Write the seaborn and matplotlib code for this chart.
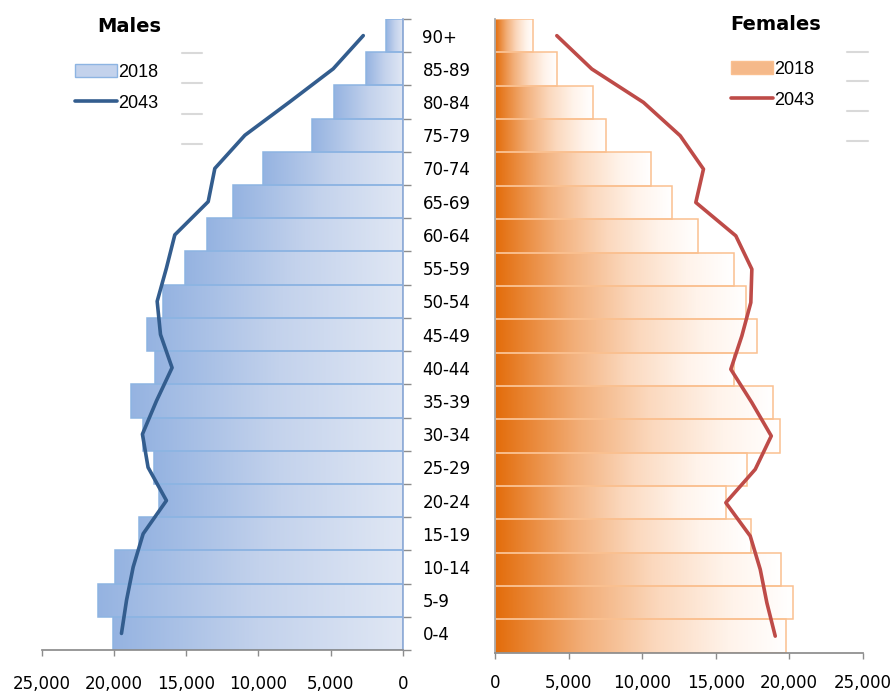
import numpy as np
import pandas as pd
import seaborn as sns
import matplotlib.pyplot as plt
from matplotlib.colors import LinearSegmentedColormap
from matplotlib.patches import Patch
from matplotlib.lines import Line2D
from matplotlib.ticker import FuncFormatter, FixedLocator

sns.set_theme(style="white")
plt.rcParams['font.family'] = ['DejaVu Sans']
plt.rcParams['text.color'] = 'black'
plt.rcParams['xtick.labelcolor'] = 'black'
plt.rcParams['ytick.labelcolor'] = 'black'

# age groups, top to bottom
ages = ["90+", "85-89", "80-84", "75-79", "70-74", "65-69", "60-64", "55-59",
        "50-54", "45-49", "40-44", "35-39", "30-34", "25-29", "20-24", "15-19",
        "10-14", "5-9", "0-4"]

males_2018 = [1200, 2560, 4800, 6280, 9670, 11750, 13550, 15100, 16600, 17730,
              17130, 18840, 17980, 17220, 16880, 18260, 19900, 21070, 20040]
males_2043 = [2750, 4830, 7850, 10940, 13020, 13480, 15790, 16370, 17010, 16780,
              15980, 17060, 18030, 17640, 16370, 17980, 18670, 19130, 19480]
females_2018 = [2610, 4200, 6640, 7530, 10590, 12020, 13810, 16240, 17070, 17800,
                16260, 18870, 19340, 17120, 15690, 17370, 19440, 20230, 19800]
females_2043 = [4200, 6580, 10090, 12590, 14170, 13650, 16370, 17460, 17390, 16780,
                16030, 17460, 18780, 17690, 15690, 17350, 18030, 18480, 19050]

xticks = [0, 5000, 10000, 15000, 20000, 25000]

df = pd.DataFrame({"age": ages, "m18": males_2018, "m43": males_2043,
                   "f18": females_2018, "f43": females_2043})
pos = np.arange(len(ages))

male_cmap = LinearSegmentedColormap.from_list("m", ["#e0e7f4", "#c3d2ec", "#95b3e1"])
female_cmap = LinearSegmentedColormap.from_list(
    "f", [(0, "#e36c0a"), (0.3, "#f2ae78"), (0.55, "#fbd8bd"), (0.8, "#fff3ea"), (1, "#ffffff")])


def shade(ax, cmap):
    # replace flat bar fill with a horizontal gradient clipped to each bar
    grad = np.linspace(0, 1, 256).reshape(1, -1)
    for bar in list(ax.patches):
        x0, y0 = bar.get_x(), bar.get_y()
        w, h = bar.get_width(), bar.get_height()
        im = ax.imshow(grad, cmap=cmap, extent=(x0, x0 + w, y0 + h, y0),
                       aspect="auto", interpolation="bilinear", zorder=0.8)
        im.set_clip_path(bar)
        bar.set_facecolor("none")
        bar.set_zorder(1)


fmt = FuncFormatter(lambda v, p: f"{v:,.0f}")
fig = plt.figure(figsize=(8.91, 6.93), dpi=100)

# ---- Males
ax_m = fig.add_axes([0.0468, 0.062, 0.4055, 0.9106])
sns.barplot(data=df, x="m18", y="age", orient="h", width=1.0, color="#c3d2ec",
            edgecolor="#8db4e2", linewidth=1.1, ax=ax_m)
shade(ax_m, male_cmap)
sns.lineplot(x=df["m43"], y=pos, orient="y", sort=False, color="#335d8e",
             linewidth=2.6, ax=ax_m)
ax_m.set_xlim(25000, 0)
ax_m.set_ylim(18.5, -0.5)
ax_m.set_xlabel("")
ax_m.set_ylabel("")
ax_m.xaxis.set_major_locator(FixedLocator(xticks))
ax_m.xaxis.set_major_formatter(fmt)
ax_m.yaxis.tick_right()
ax_m.set_yticks(pos)
ax_m.set_yticklabels(ages)
ax_m.set_yticks(np.arange(-0.5, 19, 1), minor=True)
ax_m.tick_params(axis="y", which="major", length=0, pad=14, labelsize=12, labelcolor="black")
ax_m.tick_params(axis="y", which="minor", length=6, width=1, color="#8c8c8c", right=True, left=False)
ax_m.tick_params(axis="x", length=4, width=1, color="#8c8c8c", bottom=True, pad=14, labelsize=12)
for s in ["top", "left"]:
    ax_m.spines[s].set_visible(False)
ax_m.spines["right"].set_color("#8eaad6")
ax_m.spines["right"].set_linewidth(1.2)
ax_m.spines["bottom"].set_color("#8c8c8c")

# ---- Females
ax_f = fig.add_axes([0.5556, 0.058, 0.4127, 0.9146])
sns.barplot(data=df, x="f18", y="age", orient="h", width=1.0, color="#f5b98a",
            edgecolor="#fac090", linewidth=1.1, ax=ax_f)
shade(ax_f, female_cmap)
sns.lineplot(x=df["f43"], y=pos, orient="y", sort=False, color="#be4b48",
             linewidth=2.6, ax=ax_f)
ax_f.set_xlim(0, 25000)
ax_f.set_ylim(18.5, -0.5)
ax_f.set_xlabel("")
ax_f.set_ylabel("")
ax_f.xaxis.set_major_locator(FixedLocator(xticks))
ax_f.xaxis.set_major_formatter(fmt)
ax_f.set_yticks([])
ax_f.tick_params(axis="x", length=4, width=1, color="#8c8c8c", bottom=True, pad=11, labelsize=12)
for s in ["top", "right"]:
    ax_f.spines[s].set_visible(False)
ax_f.spines["left"].set_color("#a6a6a6")
ax_f.spines["bottom"].set_color("#8c8c8c")

# ---- titles and legends
fig.text(97 / 891, 1 - 27 / 693, "Males", fontsize=14, fontweight="bold", va="center")
fig.text(730 / 891, 1 - 25 / 693, "Females", fontsize=14, fontweight="bold", va="center")

leg_kw = dict(frameon=False, borderpad=0, borderaxespad=0, handlelength=2.3,
              handletextpad=0.1, labelspacing=0.75, handleheight=0.7,
              prop={"family": "Liberation Sans", "size": 13},
              bbox_transform=fig.transFigure, loc="upper left", labelcolor="black")
ax_m.legend(handles=[Patch(facecolor="#c3d2ec", edgecolor="#8db4e2"),
                     Line2D([], [], color="#335d8e", lw=2.6)],
            labels=["2018", "2043"], bbox_to_anchor=(75 / 891, 1 - 64 / 693), **leg_kw)
ax_f.legend(handles=[Patch(facecolor="#f5b98a", edgecolor="#fac090"),
                     Line2D([], [], color="#be4b48", lw=2.6)],
            labels=["2018", "2043"], bbox_to_anchor=(731 / 891, 1 - 61 / 693), **leg_kw)

# faint empty legend slots
for xa, ys in [((182, 202), (53, 83, 114, 144)), ((847, 868), (52, 81, 111, 141))]:
    for yy in ys:
        fig.add_artist(Line2D([xa[0] / 891, xa[1] / 891], [1 - yy / 693] * 2,
                              color="#d9d9d9", lw=1.5, transform=fig.transFigure))

fig.savefig("out.png", dpi=100)
